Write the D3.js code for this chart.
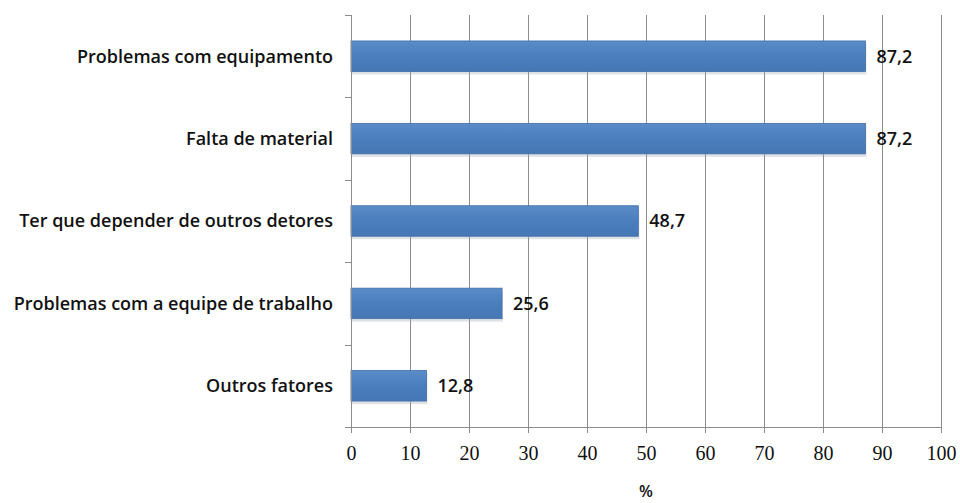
<!DOCTYPE html>
<html>
<head>
<meta charset="utf-8">
<script src="https://cdn.jsdelivr.net/npm/d3@7"></script>
<style>
  body { margin: 0; background: #fff; }
  svg { display: block; }
</style>
</head>
<body>
<div id="chart"></div>
<script>
// data
const categories = [
  'Problemas com equipamento',
  'Falta de material',
  'Ter que depender de outros detores',
  'Problemas com a equipe de trabalho',
  'Outros fatores'
];
const values = [87.2, 87.2, 48.7, 25.6, 12.8];
const xTicks = [0, 10, 20, 30, 40, 50, 60, 70, 80, 90, 100];

const width = 960, height = 503;
const margin = { top: 15, right: 19, bottom: 76, left: 351 };
const innerW = width - margin.left - margin.right;
const innerH = height - margin.top - margin.bottom;

const svg = d3.select('#chart').append('svg')
  .attr('width', width)
  .attr('height', height);

const defs = svg.append('defs');
const grad = defs.append('linearGradient')
  .attr('id', 'barGrad')
  .attr('x1', 0).attr('y1', 0).attr('x2', 0).attr('y2', 1);
grad.append('stop').attr('offset', '0%').attr('stop-color', '#5a8cc8');
grad.append('stop').attr('offset', '50%').attr('stop-color', '#4a7ebd');
grad.append('stop').attr('offset', '100%').attr('stop-color', '#4677b5');

const g = svg.append('g')
  .attr('transform', `translate(${margin.left},${margin.top})`);

const x = d3.scaleLinear().domain([0, 100]).range([0, innerW]);
const y = d3.scaleBand().domain(categories).range([0, innerH]).paddingInner(0.63).paddingOuter(0.315);

// vertical gridlines
g.selectAll('.grid')
  .data(xTicks.slice(1))
  .enter().append('line')
  .attr('x1', d => Math.round(x(d)) + 0.5)
  .attr('x2', d => Math.round(x(d)) + 0.5)
  .attr('y1', 0)
  .attr('y2', innerH)
  .attr('stroke', '#8c8c8c')
  .attr('stroke-width', 1);

// bar shadow
g.selectAll('.shadow')
  .data(values)
  .enter().append('rect')
  .attr('x', x(0) + 1)
  .attr('y', (d, i) => y(categories[i]) + 3)
  .attr('width', d => x(d) - x(0))
  .attr('height', y.bandwidth())
  .attr('fill', '#a0a8b4')
  .attr('opacity', 0.35);

// bars
g.selectAll('.bar')
  .data(values)
  .enter().append('rect')
  .attr('x', x(0))
  .attr('y', (d, i) => y(categories[i]))
  .attr('width', d => x(d) - x(0))
  .attr('height', y.bandwidth())
  .attr('fill', 'url(#barGrad)')
  .attr('stroke', '#3f6ea8')
  .attr('stroke-width', 0.8);

// value labels
g.selectAll('.val')
  .data(values)
  .enter().append('text')
  .attr('x', d => x(d) + 11)
  .attr('y', (d, i) => y(categories[i]) + y.bandwidth() / 2)
  .attr('dy', '0.36em')
  .attr('font-family', 'Open Sans, Liberation Sans, sans-serif')
  .attr('font-size', 18)
  .attr('font-weight', 600)
  .attr('fill', '#111')
  .text(d => d3.format('.1f')(d).replace('.', ','));

// x axis
const xAxis = g.append('g')
  .attr('transform', `translate(0,${innerH})`)
  .call(d3.axisBottom(x).tickValues(xTicks).tickSize(6).tickPadding(13).tickFormat(d3.format('d')));
xAxis.select('.domain').attr('stroke', '#8c8c8c');
xAxis.selectAll('.tick line').attr('stroke', '#8c8c8c');
xAxis.selectAll('.tick text')
  .attr('font-family', 'Liberation Serif, DejaVu Serif, serif')
  .attr('font-size', 20)
  .attr('fill', '#111');

// y axis: line with ticks at band boundaries
const yAxis = g.append('g');
yAxis.append('line')
  .attr('x1', 0.5).attr('x2', 0.5)
  .attr('y1', 0).attr('y2', innerH)
  .attr('stroke', '#8c8c8c');
const step = y.step();
yAxis.selectAll('.ytick')
  .data(d3.range(categories.length + 1))
  .enter().append('line')
  .attr('x1', -6).attr('x2', 0.5)
  .attr('y1', i => Math.round(i * step) + 0.5)
  .attr('y2', i => Math.round(i * step) + 0.5)
  .attr('stroke', '#8c8c8c');

// category labels
g.selectAll('.cat')
  .data(categories)
  .enter().append('text')
  .attr('x', -18)
  .attr('y', d => y(d) + y.bandwidth() / 2)
  .attr('dy', '0.36em')
  .attr('text-anchor', 'end')
  .attr('font-family', 'Open Sans, Liberation Sans, sans-serif')
  .attr('font-size', 18)
  .attr('font-weight', 600)
  .attr('fill', '#111')
  .text(d => d);

// axis title
svg.append('text')
  .attr('x', margin.left + innerW / 2)
  .attr('y', 497)
  .attr('text-anchor', 'middle')
  .attr('font-family', 'Open Sans, Liberation Sans, sans-serif')
  .attr('font-size', 16)
  .attr('font-weight', 600)
  .attr('fill', '#111')
  .text('%');
</script>
</body>
</html>
